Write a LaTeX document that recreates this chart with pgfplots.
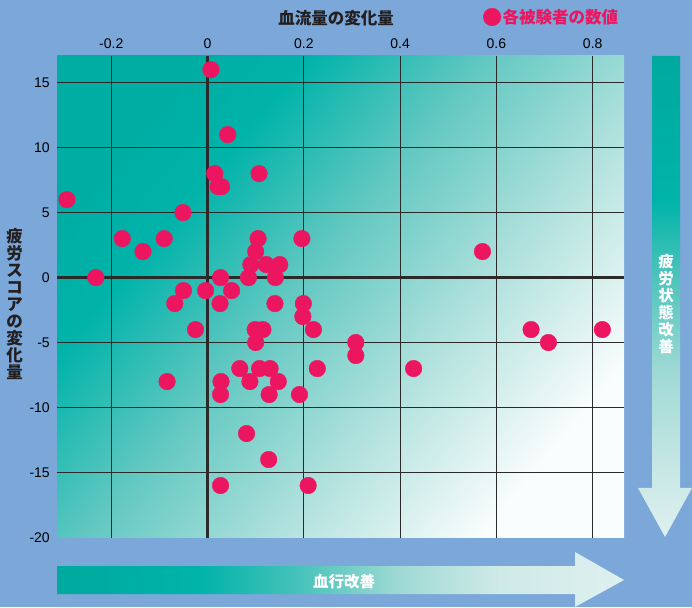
\documentclass[border=0pt]{standalone}
\usepackage{fontspec}
\setmainfont{Liberation Sans}
\newfontfamily\cjk{Noto Sans CJK JP}
\usepackage{pgfplots}
\pgfplotsset{compat=1.18}
\definecolor{bgblue}{HTML}{7BA7D9}
\definecolor{pinkc}{HTML}{EC1660}
\definecolor{gridc}{HTML}{2A2A2A}
\definecolor{titlec}{HTML}{231F20}
\definecolor{gA}{HTML}{00ADA3}
\definecolor{gB}{HTML}{00B3A9}
\definecolor{gC}{HTML}{62C8C1}
\definecolor{gD}{HTML}{B0E1DD}
\definecolor{gE}{HTML}{FAFDFD}
\definecolor{aA}{HTML}{00A99E}
\definecolor{aB}{HTML}{00B3A9}
\definecolor{aC}{HTML}{48C3BA}
\definecolor{aD}{HTML}{9ED9D4}
\definecolor{aE}{HTML}{CFEAE8}
\definecolor{aF}{HTML}{DDF0EF}
\pgfdeclarehorizontalshading{plotgrad}{100bp}{color(0bp)=(gA); color(25bp)=(gA); color(33bp)=(gB); color(46bp)=(gC); color(60bp)=(gD); color(75bp)=(gE); color(100bp)=(gE)}
\pgfdeclareverticalshading{vgrad}{100bp}{color(0bp)=(aF); color(25bp)=(aF); color(30bp)=(aE); color(42.5bp)=(aD); color(52.5bp)=(aC); color(60bp)=(aB); color(75bp)=(aA); color(100bp)=(aA)}
\pgfdeclarehorizontalshading{hgrad}{100bp}{color(0bp)=(aA); color(25bp)=(aA); color(37.5bp)=(aB); color(46.5bp)=(aC); color(55bp)=(aD); color(64bp)=(aE); color(75bp)=(aF); color(100bp)=(aF)}
\begin{document}
\begin{tikzpicture}[x=1pt,y=1pt]
\useasboundingbox (0,0) rectangle (692,607);
\fill[bgblue] (0,0) rectangle (692,607);
% plot background gradient
\shade[shading=plotgrad, shading angle=-40] (57.3,69.5) rectangle (624,551);
% right arrow
\shade[shading=vgrad] (652,551) -- (680,551) -- (680,119) -- (692,119) -- (665,70) -- (638,119) -- (652,119) -- cycle;
\node[font=\cjk\bfseries\fontsize{15.5}{17}\selectfont, align=center, text=white, inner sep=0pt] at (666,303) {疲\\労\\状\\態\\改\\善};
% bottom arrow
\shade[shading=hgrad] (57,41) -- (575,41) -- (575,55) -- (624,27) -- (575,0) -- (575,13) -- (57,13) -- cycle;
\node[font=\cjk\bfseries\fontsize{15.5}{17}\selectfont, text=white, inner sep=0pt] at (344,25.5) {血行改善};
% titles
\node[font=\cjk\bfseries\fontsize{16.5}{17}\selectfont, text=titlec, inner sep=0pt] at (336,589) {血流量の変化量};
\node[font=\cjk\bfseries\fontsize{16.5}{16.9}\selectfont, align=center, text=titlec, inner sep=0pt] at (14.5,303) {疲\\労\\ス\\コ\\ア\\の\\変\\化\\量};
\begin{axis}[
  at={(57.3pt,69.5pt)}, anchor=south west,
  scale only axis, width=566.7pt, height=481.5pt,
  xmin=-0.312, xmax=0.865, ymin=-20, ymax=17.05,
  axis line style={draw=none},
  major tick length=0pt,
  xtick={-0.2,0,0.2,0.4,0.6,0.8},
  xticklabels={-0.2,0,0.2,0.4,0.6,0.8},
  ytick={-15,-10,-5,0,5,10,15},
  yticklabels={-15,-10,-5,0,5,10,15},
  extra y ticks={-20}, extra y tick labels={-20},
  extra y tick style={grid=none},
  xticklabel pos=upper,
  xticklabel style={yshift=4pt},
  yticklabel style={xshift=-4pt},
  grid=major,
  grid style={draw=gridc, line width=0.9pt},
  tick label style={font=\fontsize{14}{14}\selectfont, text=black},
  clip=false,
  legend style={at={(rel axis cs:0.751,1.081)}, anchor=west, draw=none, fill=none,
    inner sep=0pt, font=\cjk\bfseries\fontsize{16.5}{17}\selectfont, text=pinkc,
    nodes={inner sep=1.5pt}},
  legend image code/.code={\fill[pinkc] (8.8pt,0pt) circle (8.8pt);},
]
\draw[gridc, line width=2.6pt] (axis cs:0,-20) -- (axis cs:0,17.05);
\draw[gridc, line width=2.6pt] (axis cs:-0.312,0) -- (axis cs:0.865,0);
\addplot[only marks, mark=*, mark size=8.3pt, color=pinkc, mark options={fill=pinkc, draw=pinkc}] coordinates {
(0.007,16) (0.042,11) (0.015,8) (0.107,8) (0.022,7) (0.029,7)
(-0.292,6) (-0.051,5) (-0.177,3) (-0.090,3) (0.105,3) (0.196,3)
(-0.134,2) (0.100,2) (0.571,2) (0.090,1) (0.122,1) (0.150,1)
(-0.232,0) (0.027,0) (0.085,0) (0.141,0)
(-0.050,-1) (-0.004,-1) (0.050,-1)
(-0.068,-2) (0.026,-2) (0.140,-2) (0.199,-2) (0.198,-3)
(-0.025,-4) (0.099,-4) (0.115,-4) (0.220,-4) (0.672,-4) (0.820,-4)
(0.100,-5) (0.308,-5) (0.708,-5) (0.308,-6)
(0.067,-7) (0.108,-7) (0.130,-7) (0.228,-7) (0.428,-7)
(-0.084,-8) (0.028,-8) (0.088,-8) (0.147,-8)
(0.027,-9) (0.128,-9) (0.191,-9)
(0.081,-12) (0.127,-14) (0.027,-16) (0.209,-16)
};
\addlegendentry{各被験者の数値}
\end{axis}
\end{tikzpicture}
\end{document}
